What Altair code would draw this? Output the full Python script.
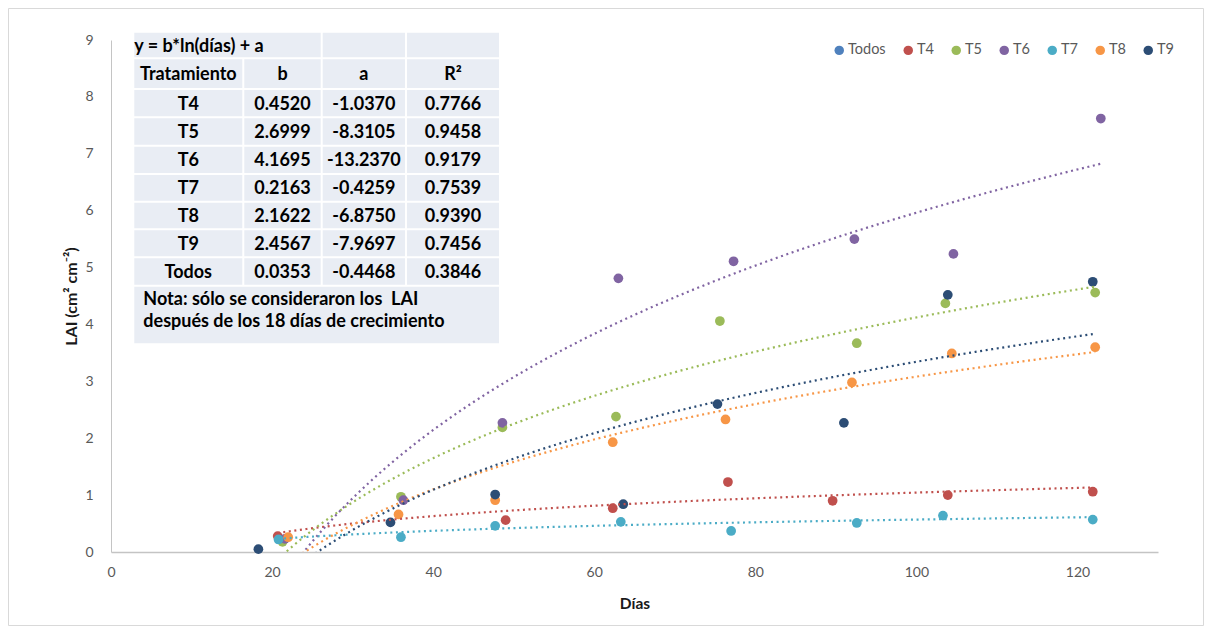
import altair as alt
import pandas as pd
import numpy as np

# ---------------- data ----------------
SERIES = ["Todos", "T4", "T5", "T6", "T7", "T8", "T9"]
COLORS = ["#4F81BD", "#C0504D", "#9BBB59", "#8064A2", "#4BACC6", "#F79646", "#2C4D75"]

T4_DIAS = [20.7, 49.0, 62.3, 76.6, 89.6, 103.9, 121.9]
T4_LAI = [0.28, 0.56, 0.77, 1.23, 0.90, 1.00, 1.06]
T5_DIAS = [21.3, 36.0, 48.6, 62.7, 75.6, 92.6, 103.6, 122.2]
T5_LAI = [0.18, 0.97, 2.19, 2.38, 4.06, 3.67, 4.37, 4.56]
T6_DIAS = [21.6, 36.3, 48.6, 63.0, 77.3, 92.3, 104.6, 122.9]
T6_LAI = [0.23, 0.91, 2.27, 4.81, 5.11, 5.50, 5.24, 7.62]
T7_DIAS = [20.8, 36.0, 47.7, 63.3, 77.0, 92.6, 103.3, 121.9]
T7_LAI = [0.22, 0.26, 0.46, 0.53, 0.37, 0.51, 0.64, 0.57]
T8_DIAS = [22.0, 35.7, 47.7, 62.3, 76.3, 92.0, 104.4, 122.2]
T8_LAI = [0.26, 0.66, 0.91, 1.93, 2.33, 2.98, 3.49, 3.60]
T9_DIAS = [18.3, 34.7, 47.7, 63.6, 75.3, 91.0, 103.9, 121.9]
T9_LAI = [0.05, 0.52, 1.01, 0.84, 2.60, 2.27, 4.52, 4.75]

# table of the fitted log curves: y = b*ln(dias) + a
TAB_TRAT = ["T4", "T5", "T6", "T7", "T8", "T9", "Todos"]
TAB_B = ["0.4520", "2.6999", "4.1695", "0.2163", "2.1622", "2.4567", "0.0353"]
TAB_A = ["-1.0370", "-8.3105", "-13.2370", "-0.4259", "-6.8750", "-7.9697", "-0.4468"]
TAB_R2 = ["0.7766", "0.9458", "0.9179", "0.7539", "0.9390", "0.7456", "0.3846"]
TAB_TITLE = "y = b*ln(días) + a"
TAB_HEAD = ["Tratamiento", "b", "a", "R²"]
TAB_NOTE = ["Nota: sólo se consideraron los\u00a0 LAI", "después de los 18 días de crecimiento"]

X_TICKS = [0, 20, 40, 60, 80, 100, 120]
Y_TICKS = [0, 1, 2, 3, 4, 5, 6, 7, 8, 9]

# ---------------- tables for the library ----------------
pts_dias = {"T4": T4_DIAS, "T5": T5_DIAS, "T6": T6_DIAS, "T7": T7_DIAS, "T8": T8_DIAS, "T9": T9_DIAS}
pts_lai = {"T4": T4_LAI, "T5": T5_LAI, "T6": T6_LAI, "T7": T7_LAI, "T8": T8_LAI, "T9": T9_LAI}

rows = []
for s in ["T4", "T5", "T6", "T7", "T8", "T9"]:
    for d, v in zip(pts_dias[s], pts_lai[s]):
        rows.append({"serie": s, "dias": d, "lai": v, "orden": SERIES.index(s)})
points_df = pd.DataFrame(rows)

line_rows = []
for i, s in enumerate(TAB_TRAT):
    if s not in pts_dias:
        continue
    b = float(TAB_B[i]); a = float(TAB_A[i])
    grid = np.linspace(min(pts_dias[s]), max(pts_dias[s]), 200)
    for d in grid:
        line_rows.append({"serie": s, "dias": float(d), "lai": float(b * np.log(d) + a)})
lines_df = pd.DataFrame(line_rows)

# ---------------- layout (pixels, relative to plot area) ----------------
W, H = 1047, 512
COL_EDGES = [22.3, 132.3, 210.7, 295.0, 389.0]
ROW_EDGES = [-8.3, 18.3, 49.0, 77.3, 105.7, 134.0, 161.7, 189.3, 217.3, 245.7, 304.3]
GAP = 1.0

cells = []
cells.append((COL_EDGES[0], COL_EDGES[2], ROW_EDGES[0], ROW_EDGES[1]))
cells.append((COL_EDGES[2], COL_EDGES[3], ROW_EDGES[0], ROW_EDGES[1]))
cells.append((COL_EDGES[3], COL_EDGES[4], ROW_EDGES[0], ROW_EDGES[1]))
for r in range(1, 9):
    for c in range(4):
        cells.append((COL_EDGES[c], COL_EDGES[c + 1], ROW_EDGES[r], ROW_EDGES[r + 1]))
cells.append((COL_EDGES[0], COL_EDGES[4], ROW_EDGES[9], ROW_EDGES[10]))
cells_df = pd.DataFrame([{"x0": a + GAP, "x1": b - GAP, "y0": c + GAP, "y1": d - GAP}
                         for a, b, c, d in cells])

col_mid = [(COL_EDGES[c] + COL_EDGES[c + 1]) / 2 for c in range(4)]
row_mid = [(ROW_EDGES[r] + ROW_EDGES[r + 1]) / 2 + 1.5 for r in range(10)]
center_txt = []
left_txt = []
left_txt.append({"x": COL_EDGES[0] + 1, "y": row_mid[0], "t": TAB_TITLE})
for c, h in enumerate(TAB_HEAD):
    center_txt.append({"x": col_mid[c], "y": row_mid[1], "t": h})
for i in range(len(TAB_TRAT)):
    r = i + 2
    for c, val in enumerate([TAB_TRAT[i], TAB_B[i], TAB_A[i], TAB_R2[i]]):
        center_txt.append({"x": col_mid[c], "y": row_mid[r], "t": val})
left_txt.append({"x": COL_EDGES[0] + 10, "y": 260.0, "t": TAB_NOTE[0]})
left_txt.append({"x": COL_EDGES[0] + 10, "y": 281.7, "t": TAB_NOTE[1]})
center_df = pd.DataFrame(center_txt)
left_df = pd.DataFrame(left_txt)

FONT = "Lato"
GRAY = "#595959"
AXIS_LINE = "#C4C4C4"

xscale = alt.Scale(domain=[0, 130], nice=False, zero=False)
yscale = alt.Scale(domain=[0, 9], nice=False, zero=False)
cscale = alt.Scale(domain=SERIES, range=COLORS)

pts = alt.Chart(points_df).mark_circle(size=95, opacity=1).encode(
    x=alt.X("dias:Q", scale=xscale,
            axis=alt.Axis(values=X_TICKS, title="Días", grid=False, ticks=False, tickSize=0,
                          format="d", labelFlush=False,
                          domainColor=AXIS_LINE, domainWidth=1.5, labelColor=GRAY,
                          labelFont=FONT, labelFontSize=14, labelPadding=13,
                          titleFont=FONT, titleFontSize=15.5, titleFontWeight="bold",
                          titleColor="#1a1a1a", titleY=51, titleBaseline="middle")),
    y=alt.Y("lai:Q", scale=yscale,
            axis=alt.Axis(values=Y_TICKS, title="LAI (cm² cm⁻²)", grid=False, ticks=False,
                          tickSize=0, format="d", labelFlush=False,
                          domainColor=AXIS_LINE, domainWidth=1, labelColor=GRAY,
                          labelFont=FONT, labelFontSize=14, labelPadding=18,
                          titleFont=FONT, titleFontSize=16, titleFontWeight="bold",
                          titleColor="#1a1a1a", titleX=-40, titleY=H / 2,
                          titleAngle=-90, titleBaseline="middle", titleAlign="center")),
    color=alt.Color("serie:N", scale=cscale,
                    legend=alt.Legend(title=None, orient="none", legendX=721, legendY=3,
                                      direction="horizontal", columns=7, symbolType="circle",
                                      symbolSize=90, symbolStrokeWidth=0, labelFont=FONT,
                                      labelFontSize=14.5, labelColor=GRAY, columnPadding=15,
                                      labelOffset=1.5, padding=0)),
    order=alt.Order("orden:Q"),
)

lines = alt.Chart(lines_df).mark_line(clip=True, strokeWidth=2.2, strokeDash=[2, 3.6],
                                      strokeCap="butt").encode(
    x=alt.X("dias:Q", scale=xscale),
    y=alt.Y("lai:Q", scale=yscale),
    stroke=alt.Stroke("serie:N", scale=cscale, legend=None),
)

main = alt.layer(pts, lines)

tx = alt.Scale(domain=[0, W], range=[0, W], nice=False, zero=False)
ty = alt.Scale(domain=[0, H], range=[0, H], nice=False, zero=False)

cell_layer = alt.Chart(cells_df).mark_rect(color="#E9EDF4").encode(
    x=alt.X("x0:Q", scale=tx, axis=None), x2="x1:Q",
    y=alt.Y("y0:Q", scale=ty, axis=None), y2="y1:Q",
)
center_layer = alt.Chart(center_df).mark_text(font=FONT, fontSize=18, fontWeight="bold",
                                              color="#000000", baseline="middle",
                                              align="center").encode(
    x=alt.X("x:Q", scale=tx, axis=None),
    y=alt.Y("y:Q", scale=ty, axis=None),
    text="t:N",
)
left_layer = alt.Chart(left_df).mark_text(font=FONT, fontSize=18, fontWeight="bold",
                                          color="#000000", baseline="middle",
                                          align="left").encode(
    x=alt.X("x:Q", scale=tx, axis=None),
    y=alt.Y("y:Q", scale=ty, axis=None),
    text="t:N",
)
frame = alt.Chart(pd.DataFrame({"k": [0]})).mark_rect(fillOpacity=0, stroke="#D9D9D9",
                                                     strokeWidth=1).encode(
    x=alt.value(-102.5), x2=alt.value(1092.5), y=alt.value(-31.5), y2=alt.value(585.5),
)
table = alt.layer(frame, cell_layer, center_layer, left_layer)

chart = alt.layer(main, table).resolve_scale(x="independent", y="independent").properties(
    width=W, height=H,
    background="white",
    autosize=alt.AutoSizeParams(type="none"),
    padding={"left": 103, "top": 32, "right": 46, "bottom": 74},
).configure_view(stroke=None)

chart.save("out.html", embed_options={"renderer": "svg", "actions": False})
